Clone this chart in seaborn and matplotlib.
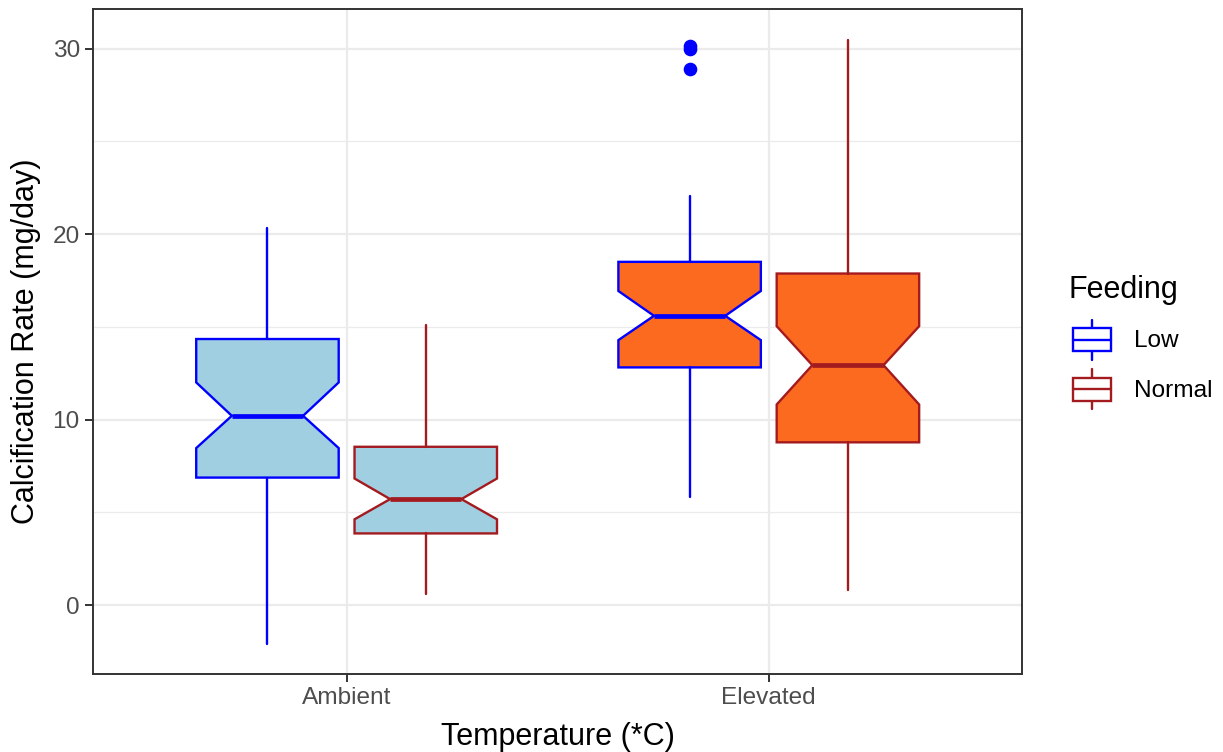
import matplotlib
matplotlib.use("Agg")
import matplotlib.pyplot as plt
import seaborn as sns
from matplotlib.patches import Patch, Rectangle
from matplotlib.lines import Line2D
from matplotlib.legend_handler import HandlerBase
from matplotlib.ticker import MultipleLocator

# Box statistics
temperature = ["Ambient", "Ambient", "Elevated", "Elevated"]
feeding = ["Low", "Normal", "Low", "Normal"]
q1 = [6.87, 3.86, 12.81, 8.77]
med = [10.2, 5.71, 15.59, 12.93]
q3 = [14.34, 8.53, 18.5, 17.87]
notch_lo = [8.46, 4.62, 14.28, 10.81]
notch_hi = [12.0, 6.82, 16.93, 15.03]
whisker_lo = [-2.1, 0.59, 5.82, 0.81]
whisker_hi = [20.31, 15.12, 22.05, 30.48]
outliers = [[], [], [30.15, 30.0, 28.9], []]

temp_levels = ["Ambient", "Elevated"]
feed_levels = ["Low", "Normal"]
fill_colors = {"Ambient": "#A0CFE1", "Elevated": "#FC6A1F"}
edge_colors = {"Low": "#0000FF", "Normal": "#A31A1F"}

sns.set_theme(style="whitegrid")
plt.rcParams["font.family"] = ["Liberation Sans", "DejaVu Sans"]

fig = plt.figure(figsize=(12.23, 7.52), dpi=100)
ax = fig.add_axes([0.0763, 0.1037, 0.7594, 0.8843])

box_w = 0.3375
offset = {"Low": -0.1875, "Normal": 0.1875}

for i in range(len(temperature)):
    pos = temp_levels.index(temperature[i]) + 1 + offset[feeding[i]]
    ec = edge_colors[feeding[i]]
    stats = [{"q1": q1[i], "med": med[i], "q3": q3[i],
              "cilo": notch_lo[i], "cihi": notch_hi[i],
              "whislo": whisker_lo[i], "whishi": whisker_hi[i],
              "fliers": outliers[i]}]
    ax.bxp(stats, positions=[pos], widths=box_w, shownotches=True,
           showcaps=False, patch_artist=True, manage_ticks=False,
           boxprops=dict(facecolor=fill_colors[temperature[i]], edgecolor=ec,
                         linewidth=1.7, joinstyle="miter"),
           whiskerprops=dict(color=ec, linewidth=1.7),
           medianprops=dict(color=ec, linewidth=3.4, solid_capstyle="butt"),
           flierprops=dict(marker="o", markerfacecolor=ec, markeredgecolor=ec,
                           markersize=8.8, linestyle="none"),
           zorder=3)

ax.set_xlim(0.4, 2.6)
ax.set_ylim(-3.72, 32.13)
ax.set_xticks([1, 2])
ax.set_xticklabels(temp_levels)
ax.yaxis.set_major_locator(MultipleLocator(10))
ax.yaxis.set_minor_locator(MultipleLocator(5))

ax.set_facecolor("white")
ax.grid(True, which="major", color="#EBEBEB", linewidth=1.6)
ax.grid(True, which="minor", axis="y", color="#EBEBEB", linewidth=0.9)
ax.set_axisbelow(True)
for side in ax.spines.values():
    side.set_color("#333333")
    side.set_linewidth(1.4)

ax.tick_params(axis="both", which="major", length=5.5, width=1.4, color="#333333",
               labelcolor="#4D4D4D", labelsize=17.6, pad=4.2, left=True, bottom=True)
ax.tick_params(axis="y", which="minor", length=0)

ax.set_xlabel("Temperature (*C)", fontsize=22, color="black", labelpad=9)
ax.set_ylabel("Calcification Rate (mg/day)", fontsize=22, color="black", labelpad=8)


class BoxKey(HandlerBase):
    def create_artists(self, legend, orig_handle, xdescent, ydescent,
                       width, height, fontsize, trans):
        c = orig_handle.get_edgecolor()
        x0, y0 = -xdescent, -ydescent
        bl, br = x0 + 0.1 * width, x0 + 1.0 * width
        xm = (bl + br) / 2
        rect = Rectangle((bl, y0 + 0.22 * height), br - bl, 0.56 * height,
                         facecolor="white", edgecolor=c, linewidth=1.7,
                         transform=trans)
        mid = Line2D([bl, br], [y0 + 0.5 * height] * 2, color=c,
                     linewidth=1.7, transform=trans)
        wtop = Line2D([xm, xm], [y0 + 0.78 * height, y0 + 0.98 * height],
                      color=c, linewidth=1.7, transform=trans)
        wbot = Line2D([xm, xm], [y0 + 0.02 * height, y0 + 0.22 * height],
                      color=c, linewidth=1.7, transform=trans)
        return [wtop, wbot, rect, mid]


handles = [Patch(edgecolor=edge_colors[f], facecolor="white") for f in feed_levels]
leg = ax.legend(handles, feed_levels, title="Feeding", loc="center left",
                bbox_to_anchor=(1.040, 0.4985), frameon=False, fontsize=17.6,
                title_fontsize=22, handler_map={Patch: BoxKey()},
                handlelength=1.7, handleheight=2.24, handletextpad=0.95,
                labelspacing=0.33, borderaxespad=0, alignment="left",
                labelcolor="black")
leg.get_title().set_color("black")
leg._legend_box.sep = 10

fig.savefig("out.png", dpi=100, facecolor="white")
